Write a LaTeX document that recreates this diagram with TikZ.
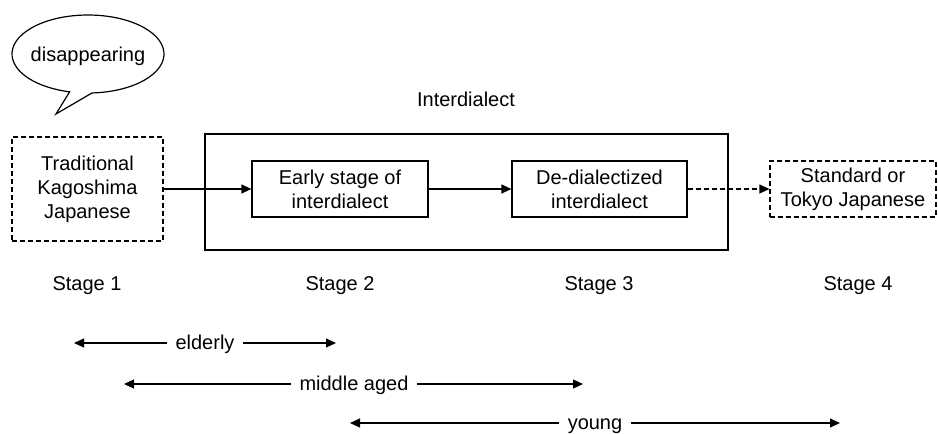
\documentclass[tikz,border=0pt]{standalone}
\usepackage{fontspec}
\setmainfont{Liberation Sans}
\usetikzlibrary{arrows.meta, positioning, calc}
\tikzset{
  >={Triangle[length=5pt, width=4.5pt]},
  box/.style={rectangle, draw, line width=0.6pt, align=center, minimum height=28pt, inner sep=2pt},
  boxd/.style={box, dash pattern=on 2.5pt off 1.5pt},
  frame/.style={rectangle, draw, line width=0.6pt, minimum width=261.5pt, minimum height=58pt},
  flow/.style={->, line width=0.6pt},
  flowd/.style={flow, dash pattern=on 2.5pt off 1.5pt},
  span/.style={->, line width=0.6pt},
  lbl/.style={inner xsep=4pt, inner ysep=0pt, text height=8pt, text depth=2pt},
}

\begin{document}
\begin{tikzpicture}[x=0.5pt, y=-0.5pt, font=\fontsize{10}{12}\selectfont]
  \useasboundingbox (0,0) rectangle (938,434);
  % speech bubble
  \coordinate (bc) at (88,54);
  \coordinate (tip) at (56,114);
  \draw[line width=0.6pt] ($(bc)+(273:38pt and 19.5pt)$)
    arc[start angle=273, end angle=616, x radius=38pt, y radius=19.5pt] -- (tip) -- cycle;
  \node (say) at (88,56) {disappearing};
  % stages
  \node[frame] (inter) at (466.5,192) {};
  \node (intertxt) at (466,99) {Interdialect};
  \node[boxd, minimum width=75.5pt, minimum height=52pt] (trad) at (87.5,189) {Traditional\\Kagoshima\\Japanese};
  \node[box, minimum width=88pt] (early) at (340,189) {Early stage of\\interdialect};
  \node[box, minimum width=87.5pt] (dedia) at (599.5,189) {De-dialectized\\interdialect};
  \node[boxd, minimum width=83pt] (std) at (853,189) {Standard or\\Tokyo Japanese};
  \draw[flow] (trad) -- (early);
  \draw[flow] (early) -- (dedia);
  \draw[flowd] (dedia) -- (std);
  \node (st1) at (87,286) {Stage 1};
  \node (st2) at (340,286) {Stage 2};
  \node (st3) at (599,286) {Stage 3};
  \node (st4) at (858,286) {Stage 4};
  % age groups
  \node[lbl] (old) at (205,343) {elderly};
  \coordinate (oldL) at (74,343); \coordinate (oldR) at (336,343);
  \draw[span] (old) -- (oldL); \draw[span] (old) -- (oldR);
  \node[lbl] (mid) at (354,384) {middle aged};
  \coordinate (midL) at (124,384); \coordinate (midR) at (583,384);
  \draw[span] (mid) -- (midL); \draw[span] (mid) -- (midR);
  \node[lbl] (yng) at (595,423) {young};
  \coordinate (yngL) at (350,423); \coordinate (yngR) at (840,423);
  \draw[span] (yng) -- (yngL); \draw[span] (yng) -- (yngR);
\end{tikzpicture}
\end{document}
